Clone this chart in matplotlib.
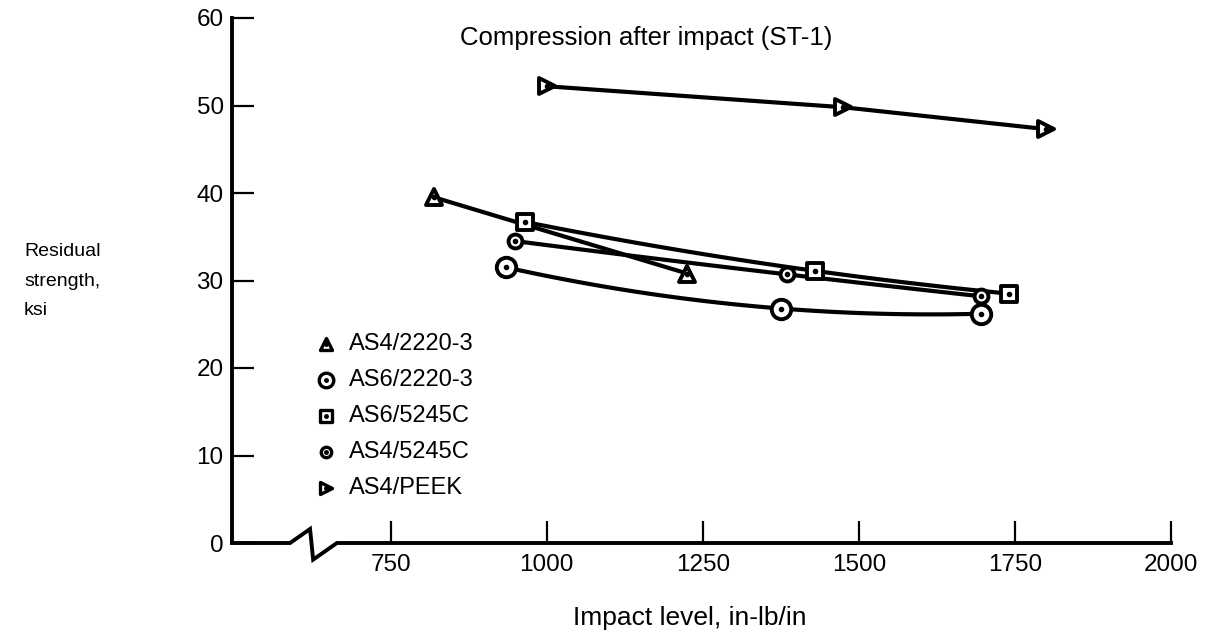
import numpy as np
import matplotlib
matplotlib.use('Agg')
import matplotlib.pyplot as plt
from matplotlib.markers import MarkerStyle

plt.rcParams['font.family'] = ['Liberation Sans', 'DejaVu Sans']

# data
names = ['AS4/2220-3', 'AS6/2220-3', 'AS6/5245C', 'AS4/5245C', 'AS4/PEEK']
x_as4_2220 = [820, 1225]
y_as4_2220 = [39.5, 30.8]
x_as6_2220 = [935, 1375, 1695]
y_as6_2220 = [31.5, 26.8, 26.2]
x_as6_5245 = [965, 1430, 1740]
y_as6_5245 = [36.7, 31.1, 28.5]
x_as4_5245 = [950, 1385, 1695]
y_as4_5245 = [34.5, 30.7, 28.2]
x_peek = [1000, 1475, 1800]
y_peek = [52.2, 49.8, 47.3]
xticks = [750, 1000, 1250, 1500, 1750, 2000]
yticks = [0, 10, 20, 30, 40, 50, 60]

series = [(x_as4_2220, y_as4_2220), (x_as6_2220, y_as6_2220), (x_as6_5245, y_as6_5245),
          (x_as4_5245, y_as4_5245), (x_peek, y_peek)]
curved = [False, True, True, True, False]
markers = [MarkerStyle('^', joinstyle='round'), MarkerStyle('o'),
           MarkerStyle('s', joinstyle='round'), MarkerStyle('o'),
           MarkerStyle('>', joinstyle='round')]
msizes = [12, 14, 12, 10, 12]

W, H = 1212, 634
fig = plt.figure(figsize=(W / 100, H / 100), dpi=100)
ax = fig.add_axes([232 / W, 1 - 543 / H, (1171 - 232) / W, (543 - 18) / H])
ax.set_xlim(496, 2000)
ax.set_ylim(0, 60)

lw = 3.0
for (xs, ys), cv, m, ms in zip(series, curved, markers, msizes):
    xs = np.array(xs, float)
    ys = np.array(ys, float)
    if cv:
        c = np.polyfit(xs, ys, 2)
        xx = np.linspace(xs[0], xs[-1], 100)
        ax.plot(xx, np.polyval(c, xx), color='black', lw=lw, zorder=2)
    else:
        ax.plot(xs, ys, color='black', lw=lw, zorder=2)
    ax.plot(xs, ys, ls='none', marker=m, ms=ms, mfc='white', mec='black', mew=2.8, zorder=3)
    ax.plot(xs, ys, ls='none', marker='o', ms=3, color='black', zorder=4)

# hand-made legend
rows = [344, 380, 416, 452, 488]
for name, m, ms, py in zip(names, markers, msizes, rows):
    fy = (543 - py) / 525
    ax.plot([(326 - 232) / 939], [fy], transform=ax.transAxes, marker=m, ms=ms * 0.75,
            mfc='white', mec='black', mew=2.4, clip_on=False)
    ax.plot([(326 - 232) / 939], [fy], transform=ax.transAxes, marker='o', ms=2.5,
            color='black', clip_on=False)
    ax.text((349 - 232) / 939, fy, name, transform=ax.transAxes, fontsize=17,
            va='center', ha='left')

# axes styling
for s in ['top', 'right', 'bottom']:
    ax.spines[s].set_visible(False)
ax.spines['left'].set_linewidth(2.8)
ax.set_xticks(xticks)
ax.set_yticks(yticks)
ax.tick_params(direction='in', length=16, width=1.6, labelsize=17.5, pad=8)
ax.tick_params(axis='y', pad=6)

# x axis with break
bx = [496, 589, 621, 626, 664, 2000]
by = [0, 0, 1.6, -1.9, 0, 0]
ax.plot(bx, by, color='black', lw=2.8, clip_on=False, solid_joinstyle='miter')

ax.text((460 - 232) / 939, (543 - 38) / 525, 'Compression after impact (ST-1)',
        transform=ax.transAxes, fontsize=18.5, ha='left', va='center')

fig.text(24 / W, 1 - 281 / H, 'Residual\nstrength,\nksi', fontsize=14,
         ha='left', va='center', linespacing=1.95)
fig.text(690 / W, 1 - 618 / H, 'Impact level, in-lb/in', fontsize=19,
         ha='center', va='center')

fig.savefig('out.png', dpi=100)
